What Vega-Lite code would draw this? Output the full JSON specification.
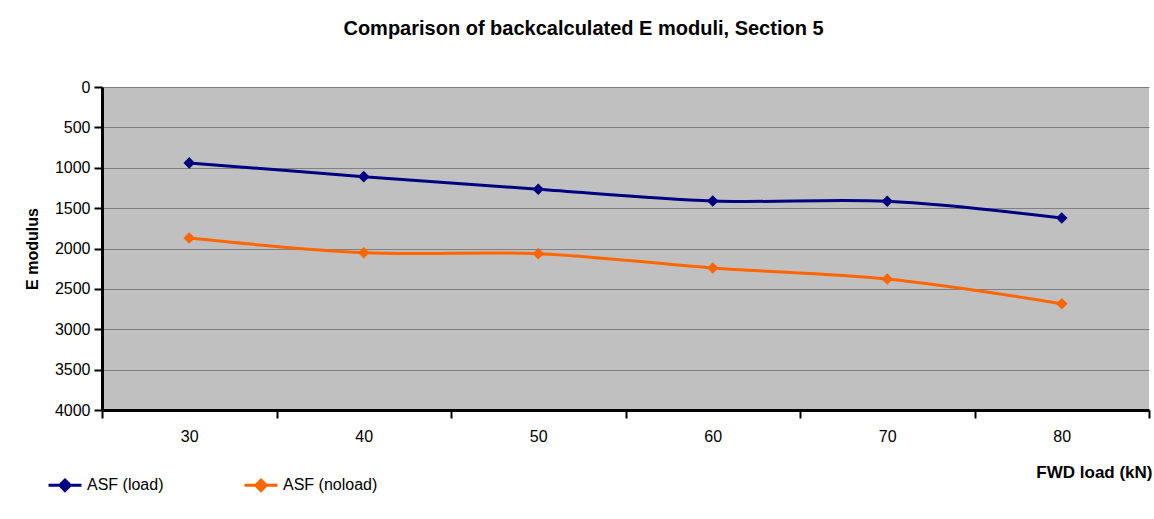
{
  "$schema": "https://vega.github.io/schema/vega-lite/v6.json",
  "width": 1047,
  "height": 323,
  "autosize": {"type": "none"},
  "padding": {"left": 102, "top": 87, "right": 5, "bottom": 109},
  "background": "white",
  "config": {
    "font": "Liberation Sans",
    "view": {"fill": "#C0C0C0", "stroke": null}
  },
  "title": {
    "text": "Comparison of backcalculated E moduli, Section 5",
    "fontSize": 20,
    "fontWeight": "bold",
    "color": "black",
    "anchor": "middle",
    "frame": "group",
    "dx": -42,
    "offset": 40
  },
  "data": {
    "values": [
      {"load": 30, "series": "ASF (load)", "E": 940},
      {"load": 40, "series": "ASF (load)", "E": 1110},
      {"load": 50, "series": "ASF (load)", "E": 1267},
      {"load": 60, "series": "ASF (load)", "E": 1412},
      {"load": 70, "series": "ASF (load)", "E": 1415},
      {"load": 80, "series": "ASF (load)", "E": 1622},
      {"load": 30, "series": "ASF (noload)", "E": 1870},
      {"load": 40, "series": "ASF (noload)", "E": 2052},
      {"load": 50, "series": "ASF (noload)", "E": 2064},
      {"load": 60, "series": "ASF (noload)", "E": 2241},
      {"load": 70, "series": "ASF (noload)", "E": 2378},
      {"load": 80, "series": "ASF (noload)", "E": 2684}
    ]
  },
  "encoding": {
    "x": {
      "field": "load",
      "type": "ordinal",
      "bandPosition": 0.5,
      "scale": {"type": "band", "paddingInner": 0, "paddingOuter": 0},
      "axis": {
        "title": "FWD load (kN)",
        "titleFontWeight": "bold",
        "titleFontSize": 17,
        "titleColor": "black",
        "titleX": 1050,
        "titleY": 62,
        "titleAlign": "right",
        "titleBaseline": "middle",
        "labelAngle": 0,
        "labelFontSize": 16,
        "labelColor": "black",
        "labelPadding": 10,
        "tickBand": "extent",
        "tickSize": 8,
        "tickWidth": 2,
        "tickColor": "black",
        "domainColor": "black",
        "domainWidth": 3,
        "grid": false
      }
    },
    "y": {
      "field": "E",
      "type": "quantitative",
      "scale": {"domain": [0, 4000], "reverse": true, "nice": false, "zero": true},
      "axis": {
        "title": "E modulus",
        "titleFontWeight": "bold",
        "titleFontSize": 16,
        "titleColor": "black",
        "titleX": -70,
        "titleY": 161.5,
        "titleAngle": 270,
        "titleAlign": "center",
        "titleBaseline": "middle",
        "values": [0, 500, 1000, 1500, 2000, 2500, 3000, 3500, 4000],
        "format": "d",
        "labelFontSize": 16,
        "labelColor": "black",
        "labelPadding": 4,
        "tickSize": 8,
        "tickWidth": 2,
        "tickColor": "black",
        "domainColor": "black",
        "domainWidth": 3,
        "grid": true,
        "gridColor": "#808080",
        "gridWidth": 1
      }
    },
    "color": {
      "field": "series",
      "type": "nominal",
      "scale": {"domain": ["ASF (load)", "ASF (noload)"], "range": ["#000080", "#FF6600"]},
      "legend": {
        "title": null,
        "orient": "none",
        "legendX": -55,
        "legendY": 380,
        "direction": "horizontal",
        "labelFontSize": 16,
        "labelColor": "black",
        "labelOffset": 4,
        "columnPadding": 74,
        "symbolType": "M-1,0H1M0,-0.32L0.32,0L0,0.32L-0.32,0Z",
        "symbolSize": 1089,
        "symbolStrokeWidth": 3,
        "encode": {
          "symbols": {
            "update": {
              "fill": {"scale": "color", "field": "value"},
              "stroke": {"scale": "color", "field": "value"},
              "opacity": {"value": 1}
            }
          }
        }
      }
    }
  },
  "layer": [
    {
      "mark": {"type": "line", "interpolate": "catmull-rom", "strokeWidth": 3}
    },
    {
      "mark": {"type": "point", "shape": "diamond", "filled": true, "size": 135, "opacity": 1}
    }
  ]
}
